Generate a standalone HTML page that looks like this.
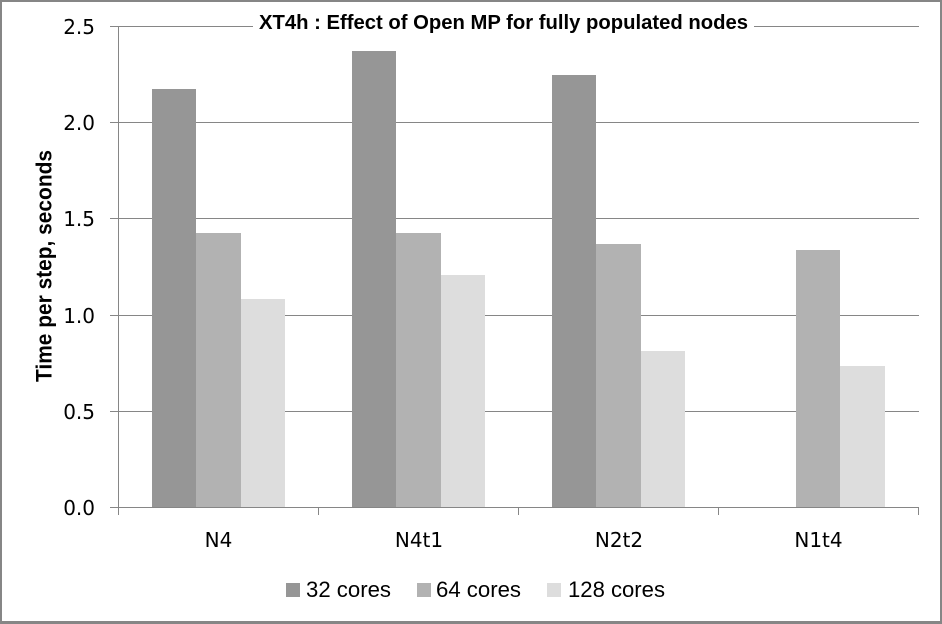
<!DOCTYPE html>
<html>
<head>
<meta charset="utf-8">
<style>
  html,body{margin:0;padding:0;background:#fff;}
  svg{display:block;}
</style>
</head>
<body>
<svg width="942" height="624" viewBox="0 0 942 624" xmlns="http://www.w3.org/2000/svg" shape-rendering="crispEdges">
  <rect x="0" y="0" width="942" height="624" fill="#fff"/>
  <!-- outer border -->
  <rect x="0" y="0" width="942" height="2" fill="#868686"/>
  <rect x="0" y="0" width="2" height="624" fill="#868686"/>
  <rect x="940" y="0" width="2" height="624" fill="#868686"/>
  <rect x="0" y="621" width="942" height="3" fill="#868686"/>

  <!-- gridlines -->
  <g fill="#868686">
    <rect x="110" y="26" width="809" height="1"/>
    <rect x="110" y="122" width="809" height="1"/>
    <rect x="110" y="218" width="809" height="1"/>
    <rect x="110" y="315" width="809" height="1"/>
    <rect x="110" y="411" width="809" height="1"/>
    <rect x="110" y="507" width="809" height="1"/>
    <!-- y axis -->
    <rect x="118" y="26" width="1" height="482"/>
    <!-- category ticks -->
    <rect x="118" y="507" width="1" height="8"/>
    <rect x="318" y="507" width="1" height="8"/>
    <rect x="518" y="507" width="1" height="8"/>
    <rect x="718" y="507" width="1" height="8"/>
    <rect x="918" y="507" width="1" height="8"/>
  </g>

  <!-- title background + title -->
  <rect x="253" y="10" width="501" height="26" fill="#fff"/>
  <text x="259" y="29" font-family="Liberation Sans, sans-serif" font-weight="bold" font-size="20" textLength="489" lengthAdjust="spacingAndGlyphs" fill="#000">XT4h : Effect of Open MP for fully populated nodes</text>

  <!-- bars -->
  <!-- N4 -->
  <rect x="152" y="89" width="44" height="418" fill="#969696"/>
  <rect x="196" y="233" width="45" height="274" fill="#b2b2b2"/>
  <rect x="241" y="299" width="44" height="208" fill="#dddddd"/>
  <!-- N4t1 -->
  <rect x="352" y="51" width="44" height="456" fill="#969696"/>
  <rect x="396" y="233" width="45" height="274" fill="#b2b2b2"/>
  <rect x="441" y="275" width="44" height="232" fill="#dddddd"/>
  <!-- N2t2 -->
  <rect x="552" y="75" width="44" height="432" fill="#969696"/>
  <rect x="596" y="244" width="45" height="263" fill="#b2b2b2"/>
  <rect x="641" y="351" width="44" height="156" fill="#dddddd"/>
  <!-- N1t4 -->
  <rect x="796" y="250" width="44" height="257" fill="#b2b2b2"/>
  <rect x="840" y="366" width="45" height="141" fill="#dddddd"/>

  <!-- y tick labels -->
  <g font-family="DejaVu Sans, sans-serif" font-size="20" fill="#000" text-anchor="end">
    <text x="95" y="34">2.5</text>
    <text x="95" y="130">2.0</text>
    <text x="95" y="226">1.5</text>
    <text x="95" y="323">1.0</text>
    <text x="95" y="419">0.5</text>
    <text x="95" y="515">0.0</text>
  </g>

  <!-- category labels -->
  <g font-family="DejaVu Sans, sans-serif" font-size="20" fill="#000" text-anchor="middle">
    <text x="218.5" y="547">N4</text>
    <text x="419" y="547">N4t1</text>
    <text x="619" y="547">N2t2</text>
    <text x="818.5" y="547">N1t4</text>
  </g>

  <!-- y axis title -->
  <text transform="translate(51.5,266) rotate(-90)" x="0" y="0" text-anchor="middle" font-family="Liberation Sans, sans-serif" font-weight="bold" font-size="22" textLength="232" lengthAdjust="spacingAndGlyphs" fill="#000">Time per step, seconds</text>

  <!-- legend -->
  <rect x="286" y="583" width="14" height="14" fill="#969696"/>
  <text x="306" y="597" font-family="Liberation Sans, sans-serif" font-size="22" textLength="85" lengthAdjust="spacingAndGlyphs" fill="#000">32 cores</text>
  <rect x="417" y="583" width="14" height="14" fill="#b2b2b2"/>
  <text x="436" y="597" font-family="Liberation Sans, sans-serif" font-size="22" textLength="85" lengthAdjust="spacingAndGlyphs" fill="#000">64 cores</text>
  <rect x="547" y="583" width="14" height="14" fill="#dddddd"/>
  <text x="568" y="597" font-family="Liberation Sans, sans-serif" font-size="22" textLength="97" lengthAdjust="spacingAndGlyphs" fill="#000">128 cores</text>
</svg>
</body>
</html>
